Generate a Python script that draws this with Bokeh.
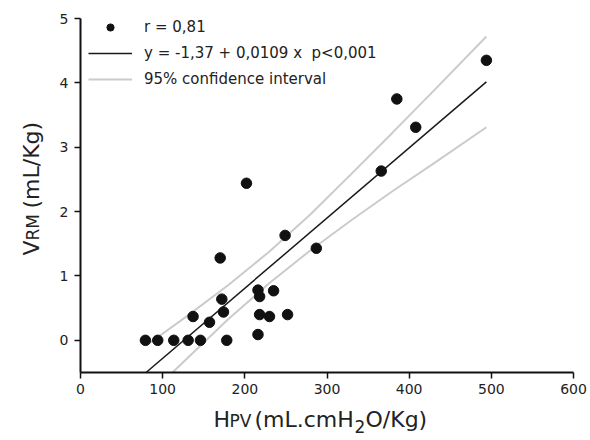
import math
from bokeh.plotting import figure
from bokeh.models import (Range1d, FixedTicker, Label, Legend, LegendItem,
                          LinearAxis)
from bokeh.embed import file_html
from bokeh.resources import INLINE

# ---- data ----
hpv = [79, 94, 113.5, 131, 146, 178, 137, 157, 172, 174, 170, 202, 216, 218,
       235, 218, 230, 252, 216, 249, 287, 366, 385, 408, 494]
vrm = [0, 0, 0, 0, 0, 0, 0.37, 0.28, 0.64, 0.44, 1.28, 2.44, 0.78, 0.68,
       0.77, 0.40, 0.37, 0.40, 0.09, 1.63, 1.43, 2.63, 3.75, 3.31, 4.35]

intercept = -1.37
slope = 0.0109

ci_upper_x = [80, 130, 180, 230, 280, 330, 380, 430, 494]
ci_upper = [-0.08, 0.38, 0.86, 1.38, 1.96, 2.59, 3.23, 3.88, 4.72]
ci_lower_x = [112, 130, 180, 230, 280, 330, 380, 430, 494]
ci_lower = [-0.50, -0.28, 0.33, 0.89, 1.40, 1.87, 2.32, 2.75, 3.31]

x_ticks = [0, 100, 200, 300, 400, 500, 600]
y_ticks = [0, 1, 2, 3, 4, 5]
x_bounds = (0, 600)
y_bounds = (-0.5, 5)

legend_labels = ["r = 0,81",
                 "y = -1,37 + 0,0109 x\u00a0\u00a0p<0,001",
                 "95% confidence interval"]

FONT = "DejaVu Sans"
TXT = "#222222"

# ---- geometry: frame covers whole canvas; axes sit at fixed locations ----
W, H = 590, 440
ML, MR, MT, MB = 80, 17, 18, 68          # pixel margins around the axes box
xpp = (x_bounds[1] - x_bounds[0]) / (W - ML - MR)
ypp = (y_bounds[1] - y_bounds[0]) / (H - MT - MB)
x_range = Range1d(x_bounds[0] - ML * xpp, x_bounds[1] + MR * xpp)
y_range = Range1d(y_bounds[0] - MB * ypp, y_bounds[1] + MT * ypp)

p = figure(width=W, height=H, output_backend="svg", toolbar_location=None,
           x_range=x_range, y_range=y_range,
           x_axis_location=None, y_axis_location=None,
           min_border_left=0, min_border_right=0, min_border_top=0,
           min_border_bottom=0)
p.outline_line_color = None
p.grid.visible = False
p.background_fill_color = "white"
p.border_fill_color = "white"

xaxis = LinearAxis(fixed_location=y_bounds[0], bounds=x_bounds,
                   ticker=FixedTicker(ticks=x_ticks))
yaxis = LinearAxis(fixed_location=x_bounds[0], bounds=y_bounds,
                   ticker=FixedTicker(ticks=y_ticks))
for ax in (xaxis, yaxis):
    ax.axis_line_width = 2
    ax.axis_line_color = "#111111"
    ax.major_tick_line_width = 1.5
    ax.major_tick_line_color = "#111111"
    ax.major_tick_out = 6
    ax.major_tick_in = 0
    ax.minor_tick_out = 0
    ax.minor_tick_in = 0
    ax.major_label_text_font = FONT
    ax.major_label_text_font_size = "14px"
    ax.major_label_text_color = TXT
xaxis.major_label_standoff = 5
yaxis.major_label_standoff = 6
p.add_layout(xaxis, "below")
p.add_layout(yaxis, "left")

r_up = p.line(ci_upper_x, ci_upper, line_color="#cbcbcb", line_width=2)
r_lo = p.line(ci_lower_x, ci_lower, line_color="#cbcbcb", line_width=2)
line_x = [(y_bounds[0] - intercept) / slope, max(hpv)]
line_y = [intercept + slope * x for x in line_x]
r_ln = p.line(line_x, line_y, line_color="#1a1a1a", line_width=1.5)
r_sc = p.scatter(hpv, vrm, size=10.5, fill_color="#111111", line_color="#111111")

legend = Legend(items=[LegendItem(label=legend_labels[0], renderers=[r_sc]),
                       LegendItem(label=legend_labels[1], renderers=[r_ln]),
                       LegendItem(label=legend_labels[2], renderers=[r_up])],
                location=(88, H - 87.5), margin=0, padding=0, spacing=8,
                glyph_width=44, glyph_height=18, label_height=18,
                label_standoff=12, border_line_color=None,
                background_fill_alpha=0,
                label_text_font=FONT, label_text_font_size="15px",
                label_text_color=TXT)
p.add_layout(legend)

# ---- axis titles as real text pieces (screen px, y measured from bottom) ----
def lab(text, x, y, size, angle=0.0):
    p.add_layout(Label(x=x, y=y, x_units="screen", y_units="screen", text=text,
                       angle=angle, text_font=FONT, text_font_size=size,
                       text_color=TXT, text_align="left",
                       text_baseline="alphabetic"))

lab("H", 213, H - 419, "22px")
lab("PV", 229, H - 420.5, "17px")
lab("(mL.cmH", 254, H - 419, "22px")
lab("2", 354, H - 426, "17px")
lab("O/Kg)", 365, H - 419, "22px")

A = math.pi / 2
lab("V", 31, H - 255, "22px", A)
lab("RM", 32.5, H - 240, "17px", A)
lab("(mL/Kg)", 31, H - 208, "22px", A)

open("out.html", "w").write(file_html(p, INLINE))
